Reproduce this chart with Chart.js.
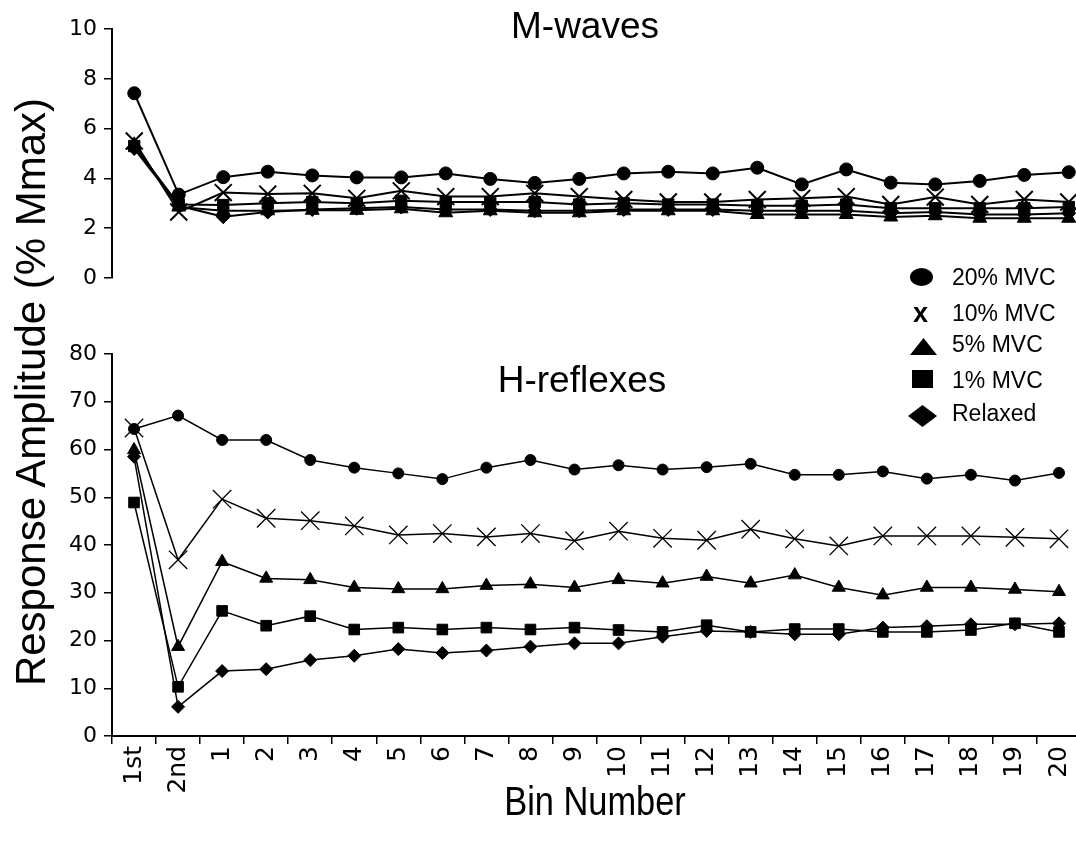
<!DOCTYPE html>
<html>
<head>
<meta charset="utf-8">
<script src="https://cdn.jsdelivr.net/npm/chart.js@4.4.0/dist/chart.umd.min.js"></script>
<style>
  body { margin: 0; background: #fff; overflow: hidden; width: 1076px; height: 846px; position: relative; }
  .box { position: absolute; left: 0; width: 1091px; }
  .txt { position: absolute; font-family: "Liberation Sans", Arial, sans-serif; color: #000; white-space: nowrap; line-height: 1; }
  .mk { position: absolute; background: #000; }
</style>
</head>
<body>
<div class="box" style="top:0;height:300px"><canvas id="mwaves" width="1091" height="300"></canvas></div>
<div class="box" style="top:300px;height:546px"><canvas id="hreflex" width="1091" height="546"></canvas></div>

<div class="txt" style="left:585px;top:7px;font-size:37px;transform:translateX(-50%)">M-waves</div>
<div class="txt" style="left:582px;top:361px;font-size:37px;transform:translateX(-50%)">H-reflexes</div>
<div class="txt" style="left:595px;top:781px;font-size:40px;transform:translateX(-50%) scaleX(0.86)">Bin Number</div>
<div class="txt" style="left:-319px;top:371px;width:700px;text-align:center;font-size:42px;transform:rotate(-90deg)">Response Amplitude (% Mmax)</div>

<!-- legend -->
<div class="mk" style="left:910px;top:268px;width:23px;height:18px;border-radius:50%"></div>
<div class="txt" style="left:913px;top:300px;font-size:27px;font-weight:bold">x</div>
<div class="mk" style="left:910px;top:338px;width:27px;height:17px;clip-path:polygon(50% 0,100% 100%,0 100%)"></div>
<div class="mk" style="left:912px;top:370px;width:21px;height:18px"></div>
<div class="mk" style="left:908px;top:405px;width:29px;height:22px;clip-path:polygon(50% 0,100% 50%,50% 100%,0 50%)"></div>
<div class="txt" style="left:952px;top:266px;font-size:23px">20% MVC</div>
<div class="txt" style="left:952px;top:302px;font-size:23px">10% MVC</div>
<div class="txt" style="left:952px;top:333px;font-size:23px">5% MVC</div>
<div class="txt" style="left:952px;top:369px;font-size:23px">1% MVC</div>
<div class="txt" style="left:952px;top:402px;font-size:23px">Relaxed</div>

<script>
const binLabels = ["1st", "2nd", "1", "2", "3", "4", "5", "6", "7", "8", "9", "10",
  "11", "12", "13", "14", "15", "16", "17", "18", "19", "20"];

// M-waves (% Mmax)
const mw20 = [7.42, 3.35, 4.05, 4.27, 4.12, 4.04, 4.04, 4.2, 3.98, 3.82, 3.98, 4.2, 4.27, 4.2, 4.43, 3.76, 4.36, 3.83, 3.76, 3.9, 4.14, 4.25];
const mw10 = [5.5, 2.65, 3.43, 3.37, 3.4, 3.2, 3.5, 3.27, 3.27, 3.4, 3.27, 3.15, 3.05, 3.05, 3.15, 3.2, 3.27, 2.95, 3.25, 2.95, 3.15, 3.05];
const mw5 = [5.35, 2.85, 2.7, 2.7, 2.72, 2.72, 2.78, 2.62, 2.7, 2.62, 2.62, 2.7, 2.7, 2.7, 2.55, 2.55, 2.55, 2.45, 2.5, 2.4, 2.4, 2.4];
const mw1 = [5.3, 2.95, 2.93, 3.0, 3.05, 3.0, 3.1, 3.05, 3.05, 3.05, 2.95, 3.0, 2.95, 2.95, 2.9, 2.9, 2.95, 2.8, 2.8, 2.8, 2.8, 2.85];
const mwRelaxed = [5.2, 2.9, 2.46, 2.65, 2.75, 2.8, 2.85, 2.75, 2.75, 2.7, 2.7, 2.75, 2.75, 2.75, 2.7, 2.7, 2.7, 2.6, 2.65, 2.55, 2.55, 2.6];

// H-reflexes (% Mmax)
const hr20 = [64.3, 67.1, 62.0, 62.0, 57.8, 56.2, 55.0, 53.8, 56.2, 57.8, 55.8, 56.7, 55.8, 56.3, 57.0, 54.7, 54.7, 55.4, 53.9, 54.7, 53.5, 55.1];
const hr10 = [64.5, 36.9, 49.6, 45.6, 45.1, 44.0, 42.1, 42.4, 41.7, 42.4, 40.9, 42.9, 41.4, 41.0, 43.3, 41.3, 39.8, 41.9, 41.9, 41.9, 41.6, 41.3];
const hr5 = [59.9, 18.7, 36.5, 33.0, 32.7, 31.1, 30.8, 30.8, 31.5, 31.8, 31.1, 32.7, 32.0, 33.4, 32.0, 33.7, 31.1, 29.5, 31.1, 31.1, 30.7, 30.2];
const hr1 = [48.9, 10.3, 26.2, 23.1, 25.1, 22.3, 22.7, 22.3, 22.7, 22.3, 22.7, 22.2, 21.8, 23.2, 21.8, 22.4, 22.4, 21.8, 21.8, 22.2, 23.6, 21.8];
const hrRelaxed = [58.5, 6.1, 13.6, 14.0, 15.9, 16.8, 18.2, 17.4, 17.9, 18.7, 19.4, 19.4, 20.8, 22.0, 21.8, 21.3, 21.3, 22.7, 23.0, 23.4, 23.4, 23.6];

function series(data, style, radius, lineW, markW) {
  return {
    data: data,
    borderColor: "#000",
    borderWidth: lineW,
    pointStyle: style,
    pointRadius: radius,
    pointBackgroundColor: "#000",
    pointBorderColor: "#000",
    pointBorderWidth: markW,
    tension: 0,
    fill: false,
    clip: false
  };
}

function yAxis(max, step) {
  return {
    min: 0,
    max: max,
    afterFit: (scale) => { scale.width = 112; },
    border: { color: "#000", width: 2 },
    grid: { drawOnChartArea: false, drawTicks: true, tickLength: 8, color: "#000", lineWidth: 1.5 },
    ticks: { stepSize: step, color: "#000", padding: 7, font: { family: "DejaVu Sans", size: 22 } }
  };
}

const common = {
  responsive: false,
  animation: false,
  plugins: { legend: { display: false }, tooltip: { enabled: false } }
};

new Chart(document.getElementById("mwaves"), {
  type: "line",
  data: {
    labels: binLabels,
    datasets: [
      series(mw20, "circle", 6.5, 2, 1),
      series(mw10, "crossRot", 12, 2, 2),
      series(mw1, "rect", 8, 2, 1),
      series(mw5, "triangle", 8, 2, 1),
      series(mwRelaxed, "rectRot", 7, 2, 1)
    ]
  },
  options: Object.assign({}, common, {
    layout: { autoPadding: false, padding: { top: 29, bottom: 22, left: 0, right: 0 } },
    scales: {
      x: { type: "category", offset: true, display: false },
      y: yAxis(10, 2)
    }
  })
});

new Chart(document.getElementById("hreflex"), {
  type: "line",
  data: {
    labels: binLabels,
    datasets: [
      series(hr20, "circle", 5.5, 1.5, 1),
      series(hr10, "crossRot", 13, 1.5, 1.3),
      series(hr5, "triangle", 7.5, 1.5, 1),
      series(hr1, "rect", 7.5, 1.5, 1),
      series(hrRelaxed, "rectRot", 6.5, 1.5, 1)
    ]
  },
  options: Object.assign({}, common, {
    layout: { autoPadding: false, padding: { top: 54, bottom: 0, left: 0, right: 0 } },
    scales: {
      x: {
        type: "category",
        offset: true,
        afterFit: (scale) => { scale.height = 110; },
        border: { color: "#000", width: 2 },
        grid: { offset: true, drawOnChartArea: false, drawTicks: true, tickLength: 8, color: "#000", lineWidth: 1.5 },
        ticks: { color: "#000", padding: 2, minRotation: 90, maxRotation: 90, autoSkip: false, font: { family: "DejaVu Sans", size: 25 } }
      },
      y: yAxis(80, 10)
    }
  })
});
</script>
</body>
</html>
